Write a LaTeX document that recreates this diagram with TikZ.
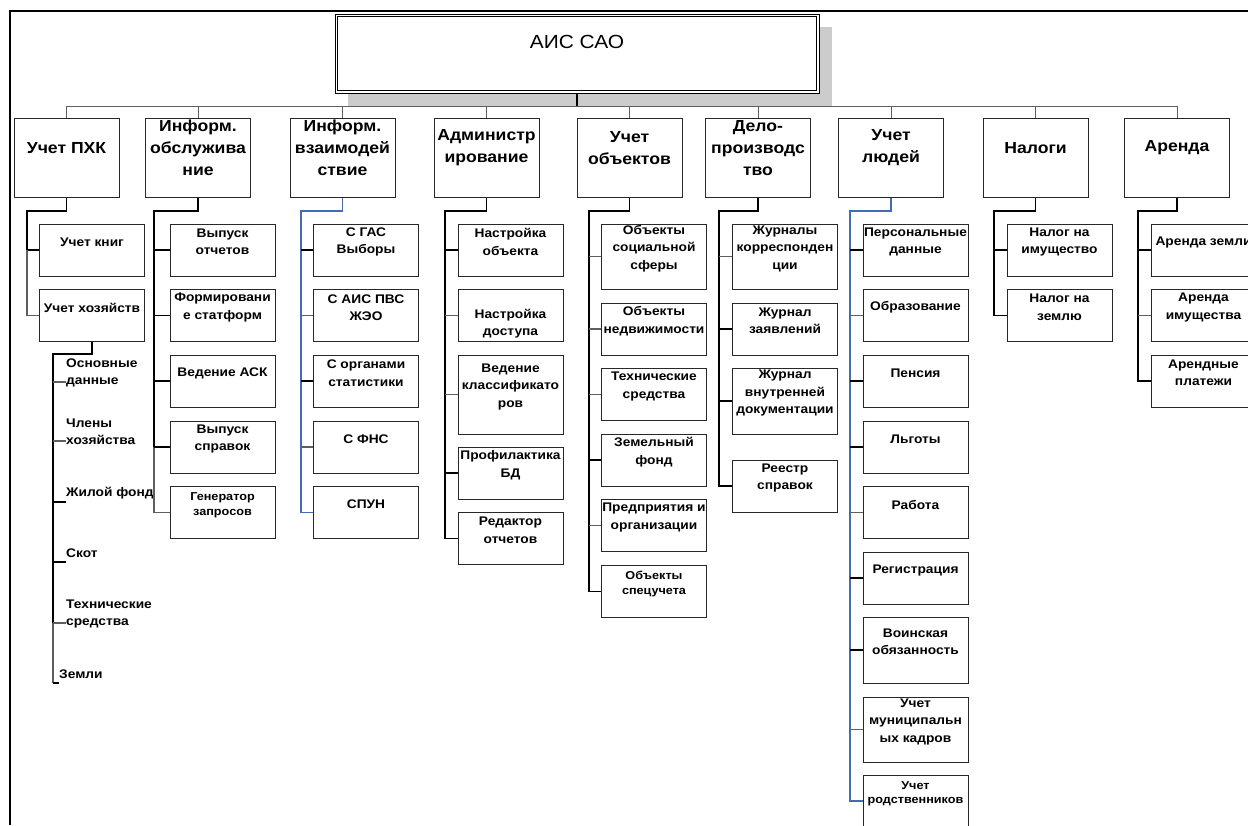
\documentclass[tikz,border=0pt]{standalone}
\usepackage{fontspec}
\setmainfont{Liberation Sans}[FakeStretch=1.1]
\usetikzlibrary{shadows}

\definecolor{linkblue}{RGB}{68,108,180}
\definecolor{linkgray}{RGB}{95,95,95}
\definecolor{boxline}{RGB}{40,40,40}

\tikzset{
  rootbox/.style={draw=black, fill=white, line width=0.9pt,
    minimum width=484pt, minimum height=79pt, inner sep=0pt,
    drop shadow={shadow xshift=13pt, shadow yshift=-13pt, fill=black!20, opacity=1}},
  rootin/.style={draw=black, line width=0.9pt},
  roottxt/.style={font=\fontsize{19}{22}\selectfont, inner sep=0pt, yshift=11.5pt},
  lvlbox/.style={draw=boxline, line width=0.9pt, minimum width=105pt, minimum height=79pt, inner sep=0pt},
  lvltxt/.style={font=\fontsize{16}{22}\selectfont\bfseries, align=center, inner sep=0pt, yshift=10pt},
  subbox/.style={draw=boxline, line width=0.9pt, minimum width=105pt, minimum height=52pt, inner sep=0pt},
  subtxt/.style={font=\fontsize{12.5}{17.5}\selectfont\bfseries, align=center, inner sep=0pt, yshift=8pt},
  smalltxt/.style={font=\fontsize{11.5}{14.5}\selectfont\bfseries, align=center, inner sep=0pt, yshift=7.5pt},
  itemtxt/.style={font=\fontsize{12.5}{17.5}\selectfont\bfseries, align=left, anchor=west, inner sep=0pt},
  frame/.style={draw=black, line width=1.6pt},
  bus/.style={draw=linkgray, line width=1pt},
  trunk/.style={draw=black, line width=1.4pt},
  bluetrunk/.style={draw=linkblue, line width=1.2pt},
  branch/.style={draw=black, line width=1.1pt},
  twig/.style={draw=linkgray, line width=1.1pt}
}

\begin{document}
\begin{tikzpicture}[x=1pt, y=-1pt]

    \useasboundingbox (0,0) rectangle (1248,825);
    \clip (0,0) rectangle (1248,825);
    \fill[white] (0,0) rectangle (1248,825);

    % Рамка
    \coordinate (fbl) at (10,825);
    \coordinate (ftl) at (10,11);
    \coordinate (ftr) at (1248,11);
    \draw[frame] (fbl) -- (ftl) -- (ftr);

    % Корень
    \node[rootbox, label={[roottxt]center:АИС САО}] (root) at (577,53.5) {};
    \draw[rootin] ([xshift=2.8pt,yshift=-2.8pt]root.north west) rectangle ([xshift=-2.8pt,yshift=2.8pt]root.south east);
    \coordinate (bus) at (577,106);

    % Подсистемы
    \node[lvlbox, label={[lvltxt]center:Учет ПХК}] (c1) at (66.5,158) {};
    \node[lvlbox, label={[lvltxt]center:Информ.\\обслужива\\ние}] (c2) at (198,158) {};
    \node[lvlbox, label={[lvltxt]center:Информ.\\взаимодей\\ствие}] (c3) at (342.5,158) {};
    \node[lvlbox, label={[lvltxt]center:Администр\\ирование}] (c4) at (486.5,158) {};
    \node[lvlbox, label={[lvltxt]center:Учет\\объектов}] (c5) at (629.5,158) {};
    \node[lvlbox, label={[lvltxt]center:Дело-\\производс\\тво}] (c6) at (758,158) {};
    \node[lvlbox, label={[lvltxt]center:Учет\\людей}] (c7) at (891,158) {};
    \node[lvlbox, label={[lvltxt]center:Налоги}] (c8) at (1035.5,158) {};
    \node[lvlbox, label={[lvltxt]center:Аренда}] (c9) at (1177,158) {};

    % Шина
    \draw[trunk] (root.south) -- (bus);
    \draw[bus] (c1.north) -- (c1.north |- bus) -| (c9.north);
    \draw[bus] (c2.north) -- (c2.north |- bus);
    \draw[bus] (c3.north) -- (c3.north |- bus);
    \draw[bus] (c4.north) -- (c4.north |- bus);
    \draw[bus] (c5.north) -- (c5.north |- bus);
    \draw[bus] (c6.north) -- (c6.north |- bus);
    \draw[bus] (c7.north) -- (c7.north |- bus);
    \draw[bus] (c8.north) -- (c8.north |- bus);

    % Учет ПХК
    \node[subbox, label={[subtxt]center:Учет книг}] (pxk1) at (92,250) {};
    \node[subbox, label={[subtxt]center:Учет хозяйств}] (pxk2) at (92,315.5) {};
    \coordinate (t1) at (27,211);
    \draw[trunk] (c1.south) |- (t1) |- (pxk1.west);
    \draw[twig] (t1 |- pxk1.west) |- (pxk2.west);

    % Учет хозяйств
    \node[itemtxt] (hz1) at (66,373) {Основные\\данные};
    \node[itemtxt] (hz2) at (66,432) {Члены\\хозяйства};
    \node[itemtxt] (hz3) at (66,493) {Жилой фонд};
    \node[itemtxt] (hz4) at (66,553) {Скот};
    \node[itemtxt] (hz5) at (66,614) {Технические\\средства};
    \node[itemtxt] (hz6) at (59,674) {Земли};
    \coordinate (hzt) at (53,354);
    \coordinate (hz1b) at (53,382);
    \coordinate (hz2b) at (53,441);
    \coordinate (hz3b) at (53,502);
    \coordinate (hz4b) at (53,562);
    \coordinate (hz5b) at (53,623);
    \coordinate (hz6b) at (53,683);
    \draw[trunk] (pxk2.south) |- (hzt) -- (hz5b);
    \draw[twig] (hz5b) -- (hz6b);
    \draw[twig] (hz1b) -- (hz1b -| hz1.west);
    \draw[twig] (hz2b) -- (hz2b -| hz2.west);
    \draw[branch] (hz3b) -- (hz3b -| hz3.west);
    \draw[branch] (hz4b) -- (hz4b -| hz4.west);
    \draw[twig] (hz5b) -- (hz5b -| hz5.west);
    \draw[branch] (hz6b) -- (hz6b -| hz6.west);

    % Информ. обслуживание
    \node[subbox, label={[subtxt]center:Выпуск\\отчетов}] (ob1) at (222.5,250) {};
    \node[subbox, label={[subtxt]center:Формировани\\е статформ}] (ob2) at (222.5,315.5) {};
    \node[subbox, label={[subtxt]center:Ведение АСК}] (ob3) at (222.5,381) {};
    \node[subbox, label={[subtxt]center:Выпуск\\справок}] (ob4) at (222.5,447) {};
    \node[subbox, label={[smalltxt]center:Генератор\\запросов}] (ob5) at (222.5,512.5) {};
    \coordinate (t2) at (154,211);
    \draw[trunk] (c2.south) |- (t2) -- (t2 |- ob4.west);
    \draw[twig] (t2 |- ob4.west) |- (ob5.west);
    \draw[branch] (t2 |- ob1.west) -- (ob1.west);
    \draw[branch] (t2 |- ob2.west) -- (ob2.west);
    \draw[branch] (t2 |- ob3.west) -- (ob3.west);
    \draw[branch] (t2 |- ob4.west) -- (ob4.west);

    % Информ. взаимодействие
    \node[subbox, label={[subtxt]center:С ГАС\\Выборы}] (vz1) at (366,250) {};
    \node[subbox, label={[subtxt]center:С АИС ПВС\\ЖЭО}] (vz2) at (366,315.5) {};
    \node[subbox, label={[subtxt]center:С органами\\статистики}] (vz3) at (366,381) {};
    \node[subbox, label={[subtxt]center:С ФНС}] (vz4) at (366,447) {};
    \node[subbox, label={[subtxt]center:СПУН}] (vz5) at (366,512.5) {};
    \coordinate (t3) at (301,211);
    \draw[bluetrunk] (c3.south) |- (t3) |- (vz5.west);
    \draw[branch] (t3 |- vz1.west) -- (vz1.west);
    \draw[twig] (t3 |- vz2.west) -- (vz2.west);
    \draw[branch] (t3 |- vz3.west) -- (vz3.west);
    \draw[twig] (t3 |- vz4.west) -- (vz4.west);

    % Администрирование
    \node[subbox, label={[subtxt]center:Настройка\\объекта}] (ad1) at (510.5,250) {};
    \node[subbox, label={[subtxt, yshift=-16pt]center:Настройка\\доступа}] (ad2) at (510.5,315.5) {};
    \node[subbox, minimum height=79pt, label={[subtxt]center:Ведение\\классификато\\ров}] (ad3) at (510.5,394.5) {};
    \node[subbox, label={[subtxt]center:Профилактика\\БД}] (ad4) at (510.5,473) {};
    \node[subbox, label={[subtxt]center:Редактор\\отчетов}] (ad5) at (510.5,538.5) {};
    \coordinate (t4) at (445,211);
    \draw[trunk] (c4.south) |- (t4) |- (ad5.west);
    \draw[branch] (t4 |- ad1.west) -- (ad1.west);
    \draw[twig] (t4 |- ad2.west) -- (ad2.west);
    \draw[twig] (t4 |- ad3.west) -- (ad3.west);
    \draw[branch] (t4 |- ad4.west) -- (ad4.west);

    % Учет объектов
    \node[subbox, minimum height=65pt, label={[subtxt]center:Объекты\\социальной\\сферы}] (uo1) at (654,256.5) {};
    \node[subbox, label={[subtxt]center:Объекты\\недвижимости}] (uo2) at (654,329) {};
    \node[subbox, label={[subtxt]center:Технические\\средства}] (uo3) at (654,394.5) {};
    \node[subbox, label={[subtxt]center:Земельный\\фонд}] (uo4) at (654,460) {};
    \node[subbox, label={[subtxt]center:Предприятия и\\организации}] (uo5) at (654,525.5) {};
    \node[subbox, label={[smalltxt]center:Объекты\\спецучета}] (uo6) at (654,591.5) {};
    \coordinate (t5) at (589,211);
    \draw[trunk] (c5.south) |- (t5) |- (uo6.west);
    \draw[twig] (t5 |- uo1.west) -- (uo1.west);
    \draw[twig] (t5 |- uo2.west) -- (uo2.west);
    \draw[twig] (t5 |- uo3.west) -- (uo3.west);
    \draw[branch] (t5 |- uo4.west) -- (uo4.west);
    \draw[twig] (t5 |- uo5.west) -- (uo5.west);

    % Делопроизводство
    \node[subbox, minimum height=65pt, label={[subtxt]center:Журналы\\корреспонден\\ции}] (dp1) at (785,256.5) {};
    \node[subbox, label={[subtxt]center:Журнал\\заявлений}] (dp2) at (785,329) {};
    \node[subbox, minimum height=66pt, label={[subtxt]center:Журнал\\внутренней\\документации}] (dp3) at (785,401) {};
    \node[subbox, label={[subtxt]center:Реестр\\справок}] (dp4) at (785,486) {};
    \coordinate (t6) at (719,211);
    \draw[trunk] (c6.south) |- (t6) |- (dp4.west);
    \draw[twig] (t6 |- dp1.west) -- (dp1.west);
    \draw[branch] (t6 |- dp2.west) -- (dp2.west);
    \draw[branch] (t6 |- dp3.west) -- (dp3.west);

    % Учет людей
    \node[subbox, label={[subtxt]center:Персональные\\данные}] (ul1) at (915.5,250) {};
    \node[subbox, label={[subtxt]center:Образование}] (ul2) at (915.5,315.5) {};
    \node[subbox, label={[subtxt]center:Пенсия}] (ul3) at (915.5,381) {};
    \node[subbox, label={[subtxt]center:Льготы}] (ul4) at (915.5,447) {};
    \node[subbox, label={[subtxt]center:Работа}] (ul5) at (915.5,512.5) {};
    \node[subbox, label={[subtxt]center:Регистрация}] (ul6) at (915.5,578) {};
    \node[subbox, minimum height=66pt, label={[subtxt]center:Воинская\\обязанность}] (ul7) at (915.5,650) {};
    \node[subbox, minimum height=65pt, label={[subtxt]center:Учет\\муниципальн\\ых кадров}] (ul8) at (915.5,729.5) {};
    \node[subbox, label={[smalltxt]center:Учет\\родственников}] (ul9) at (915.5,801) {};
    \coordinate (t7) at (850,211);
    \draw[bluetrunk] (c7.south) |- (t7) |- (ul9.west);
    \draw[branch] (t7 |- ul1.west) -- (ul1.west);
    \draw[twig] (t7 |- ul2.west) -- (ul2.west);
    \draw[branch] (t7 |- ul3.west) -- (ul3.west);
    \draw[branch] (t7 |- ul4.west) -- (ul4.west);
    \draw[twig] (t7 |- ul5.west) -- (ul5.west);
    \draw[branch] (t7 |- ul6.west) -- (ul6.west);
    \draw[branch] (t7 |- ul7.west) -- (ul7.west);
    \draw[twig] (t7 |- ul8.west) -- (ul8.west);

    % Налоги
    \node[subbox, label={[subtxt]center:Налог на\\имущество}] (nl1) at (1059.5,250) {};
    \node[subbox, label={[subtxt]center:Налог на\\землю}] (nl2) at (1059.5,315.5) {};
    \coordinate (t8) at (994,211);
    \draw[trunk] (c8.south) |- (t8) |- (nl2.west);
    \draw[branch] (t8 |- nl1.west) -- (nl1.west);

    % Аренда
    \node[subbox, label={[subtxt]center:Аренда земли}] (ar1) at (1203.5,250) {};
    \node[subbox, label={[subtxt]center:Аренда\\имущества}] (ar2) at (1203.5,315.5) {};
    \node[subbox, label={[subtxt]center:Арендные\\платежи}] (ar3) at (1203.5,381) {};
    \coordinate (t9) at (1138,211);
    \draw[trunk] (c9.south) |- (t9) |- (ar3.west);
    \draw[branch] (t9 |- ar1.west) -- (ar1.west);
    \draw[twig] (t9 |- ar2.west) -- (ar2.west);

\end{tikzpicture}
\end{document}
